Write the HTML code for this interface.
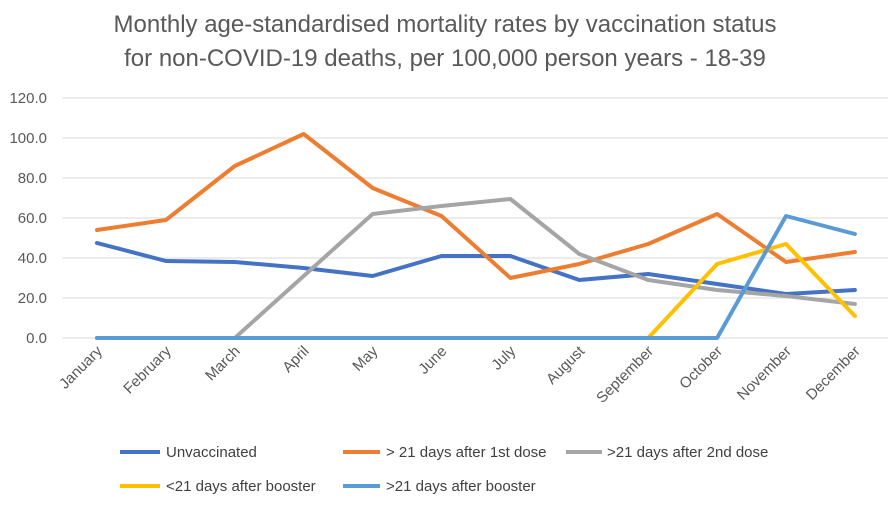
<!DOCTYPE html>
<html><head><meta charset="utf-8"><style>
body{margin:0;background:#fff;font-family:"Liberation Sans",sans-serif}
svg text{font-family:"Liberation Sans",sans-serif}
</style></head><body>
<svg id="chart" width="891" height="506" xmlns="http://www.w3.org/2000/svg">
<text x="445" y="32" text-anchor="middle" font-size="24" fill="#595959">Monthly age-standardised mortality rates by vaccination status</text>
<text x="445" y="66" text-anchor="middle" font-size="24" fill="#595959">for non-COVID-19 deaths, per 100,000 person years - 18-39</text>
<g id="grid"></g><g id="series"></g><g id="xlabels"></g>
<g font-size="15" fill="#404040">
<line x1="120" y1="452" x2="160" y2="452" stroke="#4472C4" stroke-width="4"/><text x="166" y="457">Unvaccinated</text>
<line x1="343" y1="452" x2="380" y2="452" stroke="#ED7D31" stroke-width="4"/><text x="386" y="457">&gt; 21 days after 1st dose</text>
<line x1="566" y1="452" x2="602" y2="452" stroke="#A5A5A5" stroke-width="4"/><text x="607" y="457">&gt;21 days after 2nd dose</text>
<line x1="120" y1="486" x2="160" y2="486" stroke="#FFC000" stroke-width="4"/><text x="166" y="491">&lt;21 days after booster</text>
<line x1="343" y1="486" x2="380" y2="486" stroke="#5B9BD5" stroke-width="4"/><text x="386" y="491">&gt;21 days after booster</text>
</g>
</svg>
<script>
const months=["January","February","March","April","May","June","July","August","September","October","November","December"];
const yTicks=[0,20,40,60,80,100,120];
const unvaccinated=[47.5,38.5,38,35,31,41,41,29,32,27,22,24];
const firstDose=[54,59,86,102,75,61,30,37,47,62,38,43];
const secondDose=[0,0,0,31,62,66,69.5,42,29,24,21,17];
const boosterUnder21=[0,0,0,0,0,0,0,0,0,37,47,11];
const boosterOver21=[0,0,0,0,0,0,0,0,0,0,61,52];
const NS="http://www.w3.org/2000/svg";
const x=i=>97+i*68.9;
const y=v=>338-v*2;
const grid=document.getElementById('grid');
yTicks.forEach(t=>{
 const l=document.createElementNS(NS,'line');
 
 
 l.setAttribute('x1',62);l.setAttribute('x2',888);l.setAttribute('y1',y(t));l.setAttribute('y2',y(t));
 l.setAttribute('stroke','#D9D9D9');l.setAttribute('stroke-width',1);
 grid.appendChild(l);
 const tx=document.createElementNS(NS,'text');
 
 
 tx.setAttribute('x',47);tx.setAttribute('y',y(t)+5);tx.setAttribute('text-anchor','end');
 tx.setAttribute('font-size','15');tx.setAttribute('fill','#595959');
 tx.textContent=t.toFixed(1);grid.appendChild(tx);
});
const xl=document.getElementById('xlabels');
months.forEach((m,i)=>{
 const t=document.createElementNS(NS,'text');
 
 
 t.setAttribute('text-anchor','end');t.setAttribute('font-size','15');t.setAttribute('fill','#595959');
 t.setAttribute('transform',`translate(${x(i)+6},${352}) rotate(-45)`);
 t.textContent=m;xl.appendChild(t);
});
const ser=document.getElementById('series');
[[unvaccinated,'#4472C4','line-unvaccinated'],[firstDose,'#ED7D31','line-first-dose'],[secondDose,'#A5A5A5','line-second-dose'],[boosterUnder21,'#FFC000','line-booster-under-21'],[boosterOver21,'#5B9BD5','line-booster-over-21']].forEach(([d,c,n])=>{
 const p=document.createElementNS(NS,'polyline');
 
 
 p.setAttribute('points',d.map((v,i)=>x(i)+','+y(v)).join(' '));
 p.setAttribute('fill','none');p.setAttribute('stroke',c);p.setAttribute('stroke-width','4');p.setAttribute('stroke-linejoin','round');p.setAttribute('stroke-linecap','round');
 ser.appendChild(p);
});
</script>
</body></html>
